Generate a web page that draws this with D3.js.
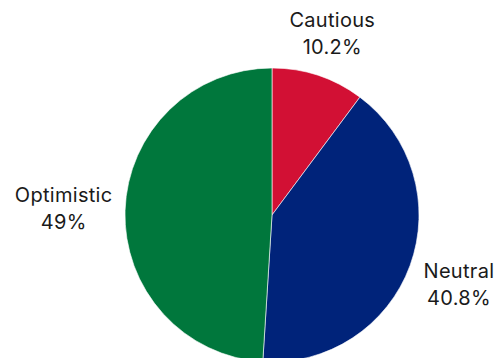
<!DOCTYPE html>
<html>
<head>
  <meta charset="utf-8">
  <style>
    body { margin: 0; background: #fff; }
    text { font-family: Inter, "Open Sans", sans-serif; }
  </style>
</head>
<body>
  <div id="chart"></div>
  <script src="https://d3js.org/d3.v7.min.js"></script>
  <script>
    // chart data
    let labels = ['Cautious', 'Neutral', 'Optimistic'];
    let values = [10.2, 40.8, 49];
    let valueText = ['10.2%', '40.8%', '49%'];
    let colors = ['#d21034', '#00237a', '#00773c'];

    let svgWidth = 500;
    let svgHeight = 358;
    let cx = 272, cy = 215, radius = 147;

    let svg = d3.select('#chart').append('svg')
      .attr('width', svgWidth)
      .attr('height', svgHeight);

    let g = svg.append('g').attr('transform', 'translate(' + cx + ',' + cy + ')');

    let pie = d3.pie().sort(null).value(d => d.value);
    let arc = d3.arc().innerRadius(0).outerRadius(radius);

    let rows = labels.map((l, i) => ({ label: l, value: values[i], text: valueText[i], color: colors[i] }));
    let arcs = pie(rows);

    g.selectAll('path')
      .data(arcs)
      .enter()
      .append('path')
      .attr('d', arc)
      .attr('fill', d => d.data.color)
      .attr('stroke', '#fff')
      .attr('stroke-width', 0.6);

    // labels outside the pie, pushed out by their own box size
    let lab = g.selectAll('.lab')
      .data(arcs)
      .enter()
      .append('text')
      .attr('class', 'lab')
      .attr('text-anchor', 'middle')
      .style('font-size', '20px')
      .style('letter-spacing', '0.3px')
      .attr('fill', '#1a1a1a');

    lab.append('tspan').attr('class', 'l1').text(d => d.data.label);
    lab.append('tspan').attr('class', 'l2').text(d => d.data.text);

    lab.each(function (d) {
      let t = d3.select(this);
      let w = Math.max(t.select('.l1').node().getComputedTextLength(), t.select('.l2').node().getComputedTextLength());
      let a = (d.startAngle + d.endAngle) / 2;
      let s = Math.sin(a), c = -Math.cos(a);
      let dist = radius + 12 + Math.abs(s) * w / 2 + Math.abs(c) * 20;
      let x = s * dist, y = c * dist;
      t.select('.l1').attr('x', x).attr('y', y - 6);
      t.select('.l2').attr('x', x).attr('y', y + 21);
    });
  </script>
</body>
</html>
